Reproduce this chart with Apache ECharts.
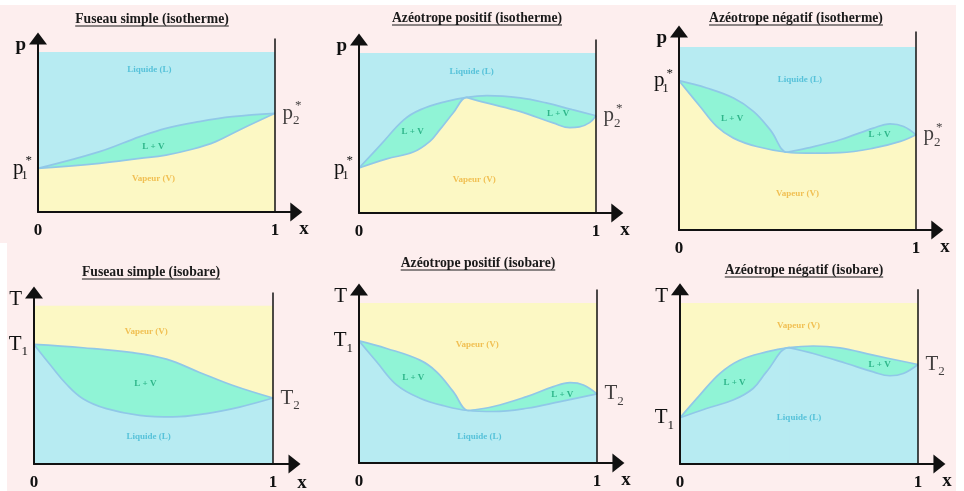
<!DOCTYPE html>
<html><head><meta charset="utf-8">
<script src="https://cdn.jsdelivr.net/npm/echarts@6/dist/echarts.min.js"></script>
<style>
html,body{margin:0;padding:0;background:#fff;}
#wrap{position:relative;width:964px;height:491px;overflow:hidden;}
.tile{position:absolute;background:#fdeeee;}
#chart{position:absolute;left:0;top:0;width:964px;height:491px;}
</style></head><body>
<div id="wrap">
<div class="tile" style="left:0;top:5px;width:956px;height:238px"></div>
<div class="tile" style="left:7px;top:243px;width:949px;height:248px"></div>
<div id="chart"></div>
</div>
<script>
// ---------- DATA ----------
const titles = ['Fuseau simple (isotherme)', 'Azéotrope positif (isotherme)', 'Azéotrope négatif (isotherme)',
                'Fuseau simple (isobare)', 'Azéotrope positif (isobare)', 'Azéotrope négatif (isobare)'];
const kinds = ['isotherme', 'isotherme', 'isotherme', 'isobare', 'isobare', 'isobare'];
const yNames = ['p', 'p', 'p', 'T', 'T', 'T'];
const xName = 'x';
const endSup = ['*', '*', '*', '', '', ''];
const xTicks = [0, 1];

// upper boundary curve (x, value) and lower boundary curve of the two-phase lens
const upper1 = [[0,27.3],[0.26,37.7],[0.43,47.1],[0.54,52.3],[0.68,56.5],[0.82,59.6],[1,61.7]];
const lower1 = [[0,27.3],[0.26,30.4],[0.43,33.5],[0.54,35.6],[0.65,39.2],[0.75,44.0],[0.85,51.3],[1,61.7]];

const upper2 = [[0,28.1],[0.09,42.4],[0.19,58.3],[0.26,64.6],[0.37,69.8],[0.454,72.3],[0.54,73.3],[0.68,71.9],[0.79,68.8],[0.9,64.6],[1,60.8]];
const lower2 = [[0,28.1],[0.117,33.8],[0.229,38.1],[0.299,44.8],[0.341,52.1],[0.397,62.5],[0.454,72.3],[0.538,68.8],[0.678,63.5],[0.819,56.3],[0.889,53.3],[0.93,53.8],[0.973,56.5],[1,60.8]];

const upper3 = [[0,81.6],[0.117,77.6],[0.23,72.1],[0.314,64.8],[0.385,54.7],[0.455,42.5],[0.54,44.7],[0.68,49.3],[0.82,55.7],[0.89,58.0],[0.948,56.6],[1,52.0]];
const lower3 = [[0,81.6],[0.089,67.5],[0.159,56.6],[0.23,50.2],[0.328,45.6],[0.455,42.5],[0.54,42.0],[0.68,42.3],[0.82,44.7],[0.934,48.4],[1,52.0]];

const upper4 = [[0,75.6],[0.205,73.5],[0.414,70.4],[0.554,66.3],[0.693,57.9],[0.833,49.6],[1,41.7]];
const lower4 = [[0,75.6],[0.066,63.1],[0.135,50.6],[0.205,41.3],[0.303,35.0],[0.442,30.8],[0.582,29.8],[0.721,31.9],[0.86,36.0],[1,41.7]];

const upper5 = [[0,76.3],[0.116,71.6],[0.256,64.3],[0.326,57.0],[0.396,44.6],[0.457,32.8],[0.565,35.3],[0.705,41.5],[0.817,47.7],[0.887,50.2],[0.943,48.8],[1,43.2]];
const lower5 = [[0,76.3],[0.074,63.3],[0.158,48.8],[0.256,40.5],[0.368,35.3],[0.457,32.8],[0.565,32.2],[0.705,34.2],[0.845,38.4],[1,43.2]];

const upper6 = [[0,28.7],[0.083,42.8],[0.167,56.2],[0.251,64.5],[0.363,69.6],[0.457,72.3],[0.56,73.3],[0.672,72.1],[0.812,67.6],[1,61.8]];
const lower6 = [[0,28.7],[0.111,34.5],[0.223,39.7],[0.307,46.9],[0.363,57.2],[0.457,72.3],[0.56,68.6],[0.7,62.4],[0.812,57.2],[0.882,54.8],[0.938,56.2],[1,61.8]];

// azeotrope composition and which curve has the cusp there
const azeoX = [null, 0.454, 0.455, null, 0.457, 0.457];
const cuspCurve = [null, 'lower', 'upper', null, 'upper', 'lower'];

// region labels: [x, value, text]
const regions1 = [[0.47,88.8,'Liquide (L)'],[0.487,40.8,'L + V'],[0.487,21,'Vapeur (V)']];
const regions2 = [[0.475,88.1,'Liquide (L)'],[0.226,51,'L + V'],[0.84,62,'L + V'],[0.486,20.8,'Vapeur (V)']];
const regions3 = [[0.51,82,'Liquide (L)'],[0.224,60.8,'L + V'],[0.846,52,'L + V'],[0.5,20,'Vapeur (V)']];
const regions4 = [[0.47,83.5,'Vapeur (V)'],[0.466,51,'L + V'],[0.48,17.3,'Liquide (L)']];
const regions5 = [[0.497,73.7,'Vapeur (V)'],[0.228,53.5,'L + V'],[0.854,42.5,'L + V'],[0.506,16.2,'Liquide (L)']];
const regions6 = [[0.498,86.2,'Vapeur (V)'],[0.229,50.6,'L + V'],[0.839,61.8,'L + V'],[0.5,28.9,'Liquide (L)']];

const uppers = [upper1, upper2, upper3, upper4, upper5, upper6];
const lowers = [lower1, lower2, lower3, lower4, lower5, lower6];
const regionSets = [regions1, regions2, regions3, regions4, regions5, regions6];

// ---------- LAYOUT / STYLE ----------
const FILL_TOP = 100, YMAX = 108.5, XMAX = 1.09, SEAM = 0.003;
const layout = [
  {xL:38, xR:275, yB:212, yT:52, tx:152, ty:19},
  {xL:359, xR:596, yB:213, yT:53, tx:477, ty:18},
  {xL:679, xR:916, yB:230, yT:47, tx:796, ty:18},
  {xL:34, xR:273, yB:466, yT:306, tx:151, ty:272},
  {xL:359, xR:597, yB:463, yT:303, tx:478, ty:263},
  {xL:680, xR:918, yB:464, yT:303, tx:804, ty:270}
];
const SERIF = '"Liberation Serif", "Times New Roman", serif';
const C = {liquid:'#b7ebf2', mix:'#90f4d6', vapour:'#fcf8c4', curve:'#90c8e8',
           liquidText:'#3fb8d3', mixText:'#17a677', vapourText:'#eeb137'};
const textColor = {'Liquide (L)': C.liquidText, 'L + V': C.mixText, 'Vapeur (V)': C.vapourText};

const rich = {
  b: {fontFamily: SERIF, fontSize: 21, color: '#111', lineHeight: 28},
  sub: {fontFamily: SERIF, fontSize: 13, color: '#111', verticalAlign: 'bottom', lineHeight: 12},
  subs: {fontFamily: SERIF, fontSize: 13, color: '#111', verticalAlign: 'bottom', lineHeight: 12, width: 2, align: 'left'},
  sup: {fontFamily: SERIF, fontSize: 13, color: '#111', verticalAlign: 'top', lineHeight: 17, align: 'left'}
};
function symLabel(i, idx) {
  return endSup[i]
    ? '{b|' + yNames[i] + '}{subs|' + idx + '}{sup|' + endSup[i] + '}'
    : '{b|' + yNames[i] + '}{sub|' + idx + '}';
}

const grids = [], xAxes = [], yAxes = [], series = [], graphics = [];
const ctx = document.createElement('canvas').getContext('2d');
const titleFont = 'bold 13.7px ' + SERIF;
ctx.font = titleFont;

layout.forEach((L, i) => {
  const unitY = (L.yB - L.yT) / 100;
  const h = unitY * YMAX;
  grids.push({left: L.xL, top: L.yB - h, width: (L.xR - L.xL) * XMAX, height: h});
  xAxes.push({
    gridIndex: i, type: 'value', min: 0, max: XMAX, z: 10,
    axisLine: {show: true, lineStyle: {color: '#111', width: 2}, symbol: ['none', 'triangle'], symbolSize: [19, 12]},
    axisTick: {show: false}, splitLine: {show: false},
    axisLabel: {customValues: xTicks, formatter: v => String(v), fontFamily: SERIF, fontWeight: 'bold', fontSize: 17, color: '#111', margin: 10}
  });
  const up = uppers[i], lo = lowers[i];
  yAxes.push({
    gridIndex: i, type: 'value', min: 0, max: YMAX, z: 10,
    name: yNames[i], nameLocation: 'end', nameGap: -7,
    nameTextStyle: {fontFamily: SERIF, fontWeight: yNames[i] === 'p' ? 'bold' : 'normal', fontSize: yNames[i] === 'p' ? 19 : 21, color: '#111', align: 'right', verticalAlign: 'middle', padding: [0, 12, 0, 0]},
    axisLine: {show: true, lineStyle: {color: '#111', width: 2}, symbol: ['none', 'triangle'], symbolSize: [18, 12]},
    axisTick: {show: false}, splitLine: {show: false},
    axisLabel: {customValues: [up[0][1]], formatter: () => symLabel(i, 1), margin: 6, rich: rich}
  });

  const iso = kinds[i] === 'isotherme';
  const topColor = iso ? C.liquid : C.vapour;
  const bottomColor = iso ? C.vapour : C.liquid;
  const base = {type: 'line', xAxisIndex: i, yAxisIndex: i, symbol: 'none', silent: true, animation: false};
  // upper region (background up to the top of the frame)
  series.push(Object.assign({}, base, {data: [[0, FILL_TOP], [1, FILL_TOP]], lineStyle: {width: 0},
    areaStyle: {color: topColor, opacity: 1}, z: 1}));
  function addCurve(pts, fill, cusp) {
    let parts = [pts];
    if (cusp) {
      const left = pts.filter(p => p[0] <= azeoX[i]);
      const right = pts.filter(p => p[0] >= azeoX[i]);
      const tip = left[left.length - 1];
      // tiny overlap so the two filled halves meet without an anti-aliasing seam
      parts = [right, left.concat([[tip[0] + SEAM, tip[1]]])];
    }
    parts.forEach(part => series.push(Object.assign({}, base, {data: part, smooth: 0.4,
      lineStyle: {color: C.curve, width: 1.7}, areaStyle: {color: fill, opacity: 1}, z: 2})));
  }
  addCurve(up, C.mix, cuspCurve[i] === 'upper');
  addCurve(lo, bottomColor, cuspCurve[i] === 'lower');
  // right border at x = 1
  series.push(Object.assign({}, base, {data: [[1, 0], [1, YMAX]], lineStyle: {color: '#111', width: 1.5}, z: 4}));
  // end-member label at x = 1
  series.push({type: 'scatter', xAxisIndex: i, yAxisIndex: i, silent: true, animation: false, symbolSize: 1,
    itemStyle: {color: 'rgba(0,0,0,0)'}, z: 6,
    data: [[1, up[up.length - 1][1]]],
    label: {show: true, position: 'right', distance: 7, formatter: () => symLabel(i, 2), rich: rich}});
  // region labels
  series.push({type: 'scatter', xAxisIndex: i, yAxisIndex: i, silent: true, animation: false, symbolSize: 1,
    itemStyle: {color: 'rgba(0,0,0,0)'}, z: 6,
    data: regionSets[i].map(r => ({name: r[2], value: [r[0], r[1]], label: {color: textColor[r[2]]}})),
    label: {show: true, position: 'inside', formatter: '{b}', fontFamily: SERIF, fontWeight: 'bold', fontSize: 9}});

  // x axis name, below the arrow head
  graphics.push({type: 'text', x: L.xR + 29, y: L.yB + 17, z: 20,
    style: {text: xName, font: 'bold 19px ' + SERIF, fill: '#111', align: 'center', verticalAlign: 'middle'}});
  // title with underline
  const w = ctx.measureText(titles[i]).width;
  graphics.push({type: 'text', x: L.tx, y: L.ty, style: {text: titles[i], font: titleFont, fill: '#1a1a1a', align: 'center', verticalAlign: 'middle'}});
  graphics.push({type: 'line', shape: {x1: L.tx - w / 2, y1: L.ty + 7, x2: L.tx + w / 2, y2: L.ty + 7}, style: {stroke: '#1a1a1a', lineWidth: 1}});
});

const chart = echarts.init(document.getElementById('chart'));
chart.setOption({
  animation: false,
  grid: grids, xAxis: xAxes, yAxis: yAxes, series: series, graphic: graphics
});
</script>
</body></html>
